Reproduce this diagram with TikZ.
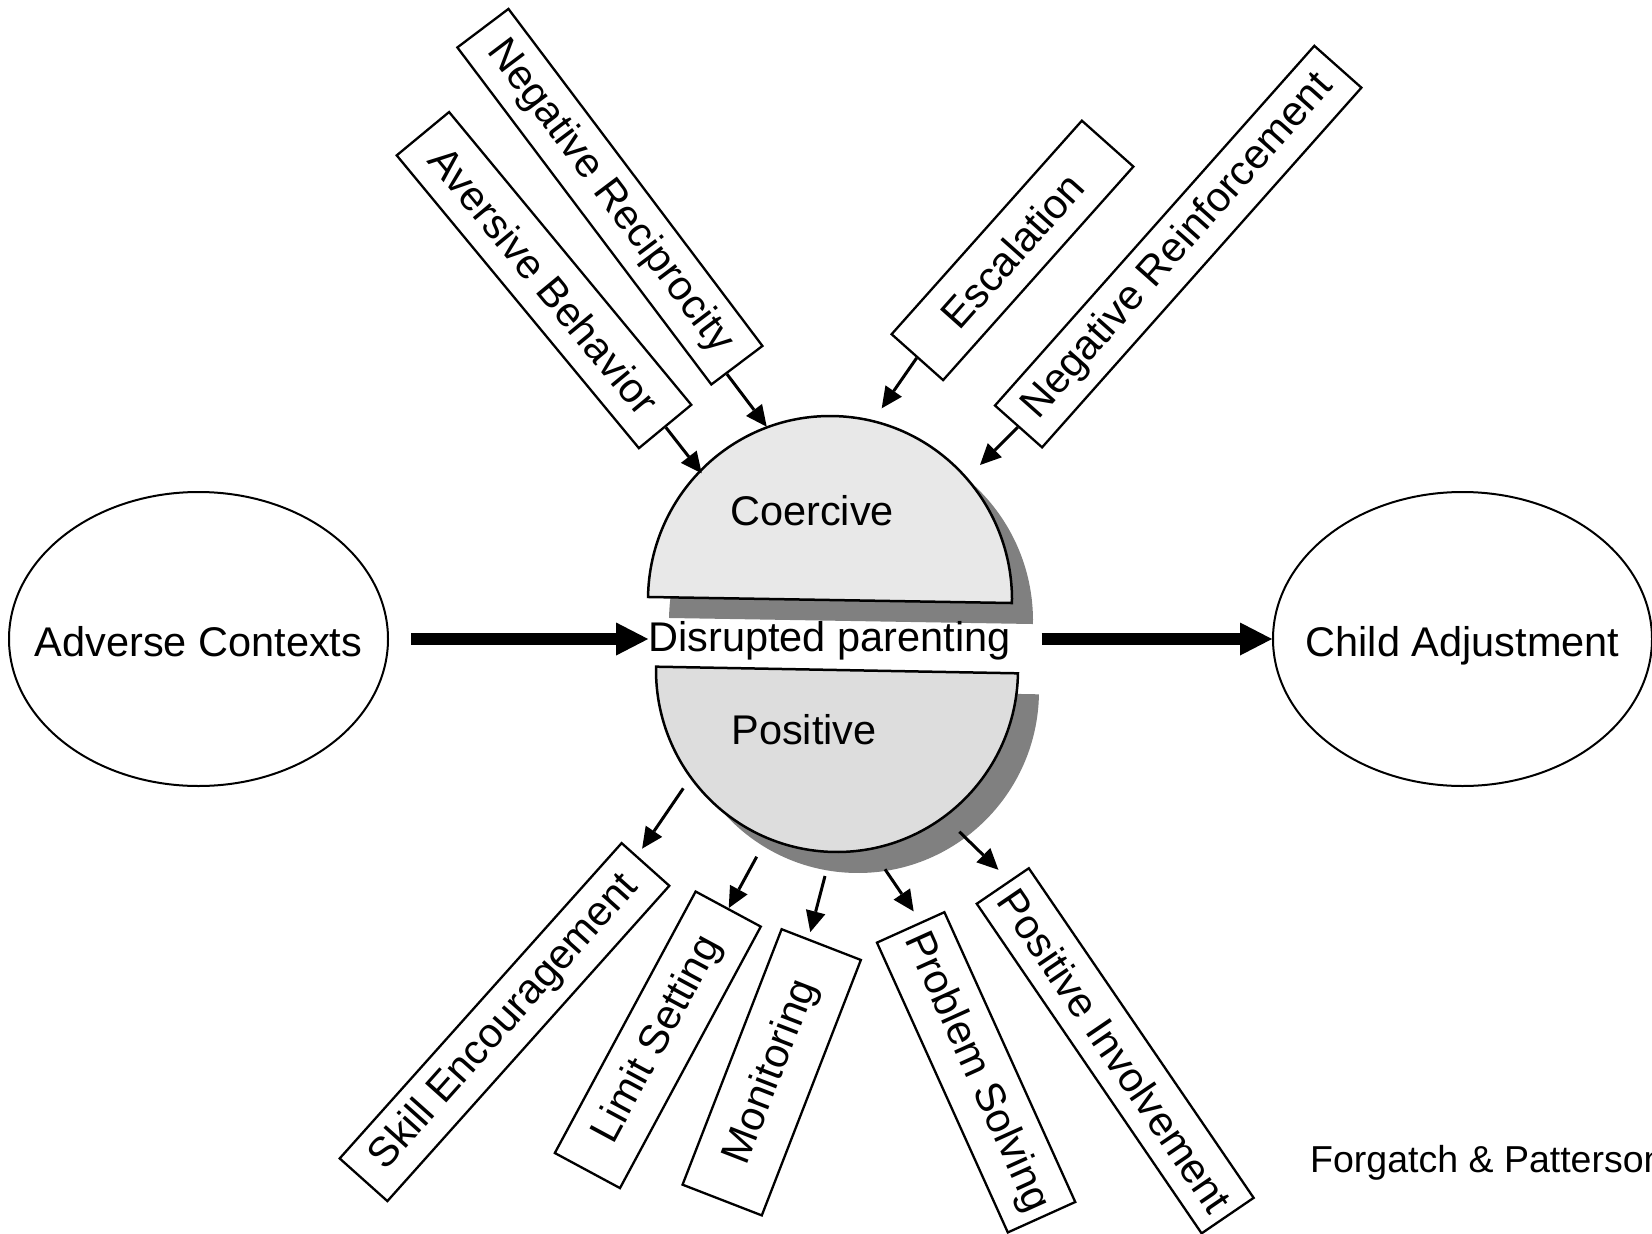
\documentclass[tikz,border=0pt]{standalone}
\usepackage{fontspec}
\setmainfont{Liberation Sans}
\usetikzlibrary{arrows.meta,calc,shapes.geometric}
\begin{document}
\begin{tikzpicture}[x=1pt,y=1pt,
  lbl/.style={inner sep=0pt, font=\fontsize{41.5}{48}\selectfont},
  factorbox/.style={draw, line width=2.3pt, fill=white, inner sep=0pt,
    font=\fontsize{41.5}{48}\selectfont},
  oval/.style={draw, ellipse, line width=2pt, minimum width=379pt,
    minimum height=294pt, inner sep=0pt, text height=34pt, text depth=0pt,
    font=\fontsize{41.5}{48}\selectfont},
  thinarrow/.style={line width=3pt,
    -{Triangle[length=21pt,width=20pt,line width=0pt]}},
  bigarrow/.style={line width=12pt,
    -{Triangle[length=32pt,width=33pt,line width=0pt]}},
  halfdisc/.style={draw, line width=2.5pt},
]
\useasboundingbox (0,0) rectangle (1652,-1234);

% drop shadows of the two halves
\begin{scope}[shift={(21,-21)}]
  \begin{scope}[rotate around={-0.95:(830,-600)}]
    \fill[gray] (648,-600) arc[start angle=180,end angle=0,x radius=182,y radius=184] -- cycle;
  \end{scope}
  \begin{scope}[rotate around={-1.05:(837,-670)}]
    \fill[gray] (656,-670) arc[start angle=180,end angle=360,x radius=181,y radius=182] -- cycle;
  \end{scope}
\end{scope}

% upper (coercive) and lower (positive) halves
\begin{scope}[rotate around={-0.95:(830,-600)}]
  \draw[halfdisc, fill=gray!18] (648,-600) arc[start angle=180,end angle=0,x radius=182,y radius=184] -- cycle;
\end{scope}
\begin{scope}[rotate around={-1.05:(837,-670)}]
  \draw[halfdisc, fill=gray!27] (656,-670) arc[start angle=180,end angle=360,x radius=181,y radius=182] -- cycle;
\end{scope}

\node[lbl, anchor=base] (coer) at (812,-525) {Coercive};
\node[lbl, anchor=base] (posi) at (804,-744.3) {Positive};
\node[lbl, anchor=base] (dp) at (829.4,-651) {Disrupted parenting};

% outer stages (zero-width text box so the ellipse keeps its own size)
\node[oval] (adv) at (198.5,-639) {\makebox[0pt]{Adverse Contexts}};
\node[oval] (child) at (1462.5,-639) {\makebox[0pt]{Child Adjustment}};

\draw[bigarrow, shorten <=22pt] (adv.east) -- (adv.east -| dp.west);
\draw[bigarrow, shorten <=31pt] (child.west -| dp.east) -- (child.west);

% coercive processes
\node[factorbox, rotate=-50.4, minimum width=380pt, minimum height=68pt] (avb) at (544,-280.1) {Aversive Behavior};
\node[factorbox, rotate=-53, minimum width=422pt, minimum height=64pt] (nrec) at (609.9,-196.7) {Negative Reciprocity};
\node[factorbox, rotate=48.3, minimum width=286pt, minimum height=69pt] (esc) at (1012.5,-250.4) {Escalation};
\node[factorbox, rotate=48.4, minimum width=481pt, minimum height=63pt] (nrei) at (1178.2,-246.6) {Negative Reinforcement};

% positive parenting practices
\node[factorbox, rotate=48.2, minimum width=423pt, minimum height=64pt] (skill) at (504.5,-1022.1) {Skill Encouragement};
\node[factorbox, rotate=61.7, minimum width=297pt, minimum height=74pt] (limit) at (657.8,-1039.8) {Limit Setting};
\node[factorbox, rotate=68.8, minimum width=274pt, minimum height=85pt] (moni) at (771.7,-1072.3) {Monitoring};
\node[factorbox, rotate=-65.7, minimum width=318pt, minimum height=74pt] (prob) at (976.1,-1072.3) {Problem Solving};
\node[factorbox, rotate=-55.7, minimum width=399pt, minimum height=63pt] (pinv) at (1115.2,-1050.8) {Positive Involvement};

% points on the rim of the halves
\coordinate (tAvb) at (701.7,-473.3);
\coordinate (tNrec) at (766.7,-426.7);
\coordinate (tEsc) at (881.7,-408.3);
\coordinate (tNrei) at (980,-465);
\coordinate (sSkill) at (683.3,-788.3);
\coordinate (sLimit) at (756.7,-856.7);
\coordinate (sMoni) at (825,-876);
\coordinate (sProb) at (885,-869.3);
\coordinate (sPinv) at (959.3,-831.7);

\draw[thinarrow] (avb.east) -- (tAvb);
\draw[thinarrow] ($(nrec.north east)!0.7!(nrec.south east)$) -- (tNrec);
\draw[thinarrow] (esc.west) -- (tEsc);
\draw[thinarrow] (nrei.west) -- (tNrei);
\draw[thinarrow, shorten >=8.5pt] (sSkill) -- ($(skill.north east)!0.32!(skill.south east)$);
\draw[thinarrow] (sLimit) -- (limit.east);
\draw[thinarrow, shorten >=6.6pt] (sMoni) -- ($(moni.north east)!0.34!(moni.south east)$);
\draw[thinarrow, shorten >=12.4pt] (sProb) -- ($(prob.north west)!0.35!(prob.south west)$);
\draw[thinarrow, shorten >=15pt] (sPinv) -- ($(pinv.north west)!0.37!(pinv.south west)$);

\node[inner sep=0pt, anchor=base west, font=\fontsize{37.5}{44}\selectfont] (credit) at (1310,-1172) {Forgatch \& Patterson};
\end{tikzpicture}
\end{document}
